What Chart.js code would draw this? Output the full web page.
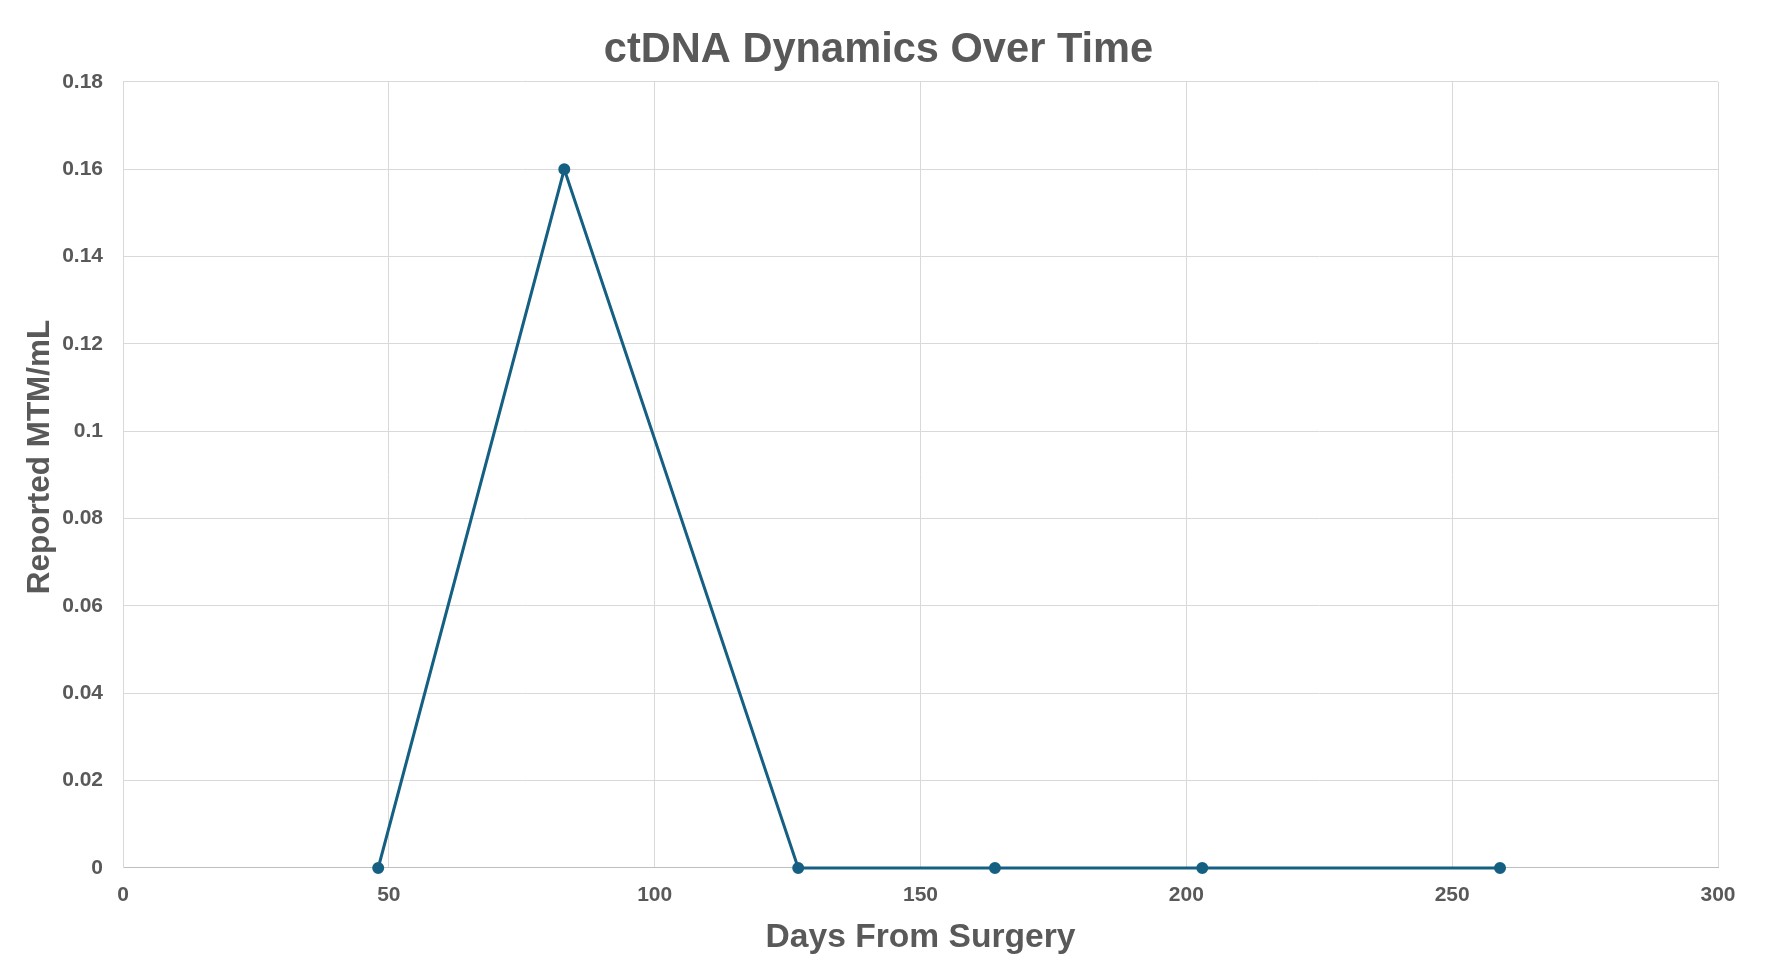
<!DOCTYPE html>
<html>
<head>
<meta charset="utf-8">
<script src="https://cdn.jsdelivr.net/npm/chart.js@4"></script>
<style>
  html, body { margin: 0; padding: 0; background: #ffffff; }
  #wrap { width: 1772px; height: 964px; }
</style>
</head>
<body>
<div id="wrap"><canvas id="chart"></canvas></div>
<script>
// days after surgery and reported MTM/mL
const days = [48, 83, 127, 164, 203, 259];
const mtm = [0, 0.16, 0, 0, 0, 0];

const xTicks = [0, 50, 100, 150, 200, 250, 300];
const yTicks = [0, 0.02, 0.04, 0.06, 0.08, 0.1, 0.12, 0.14, 0.16, 0.18];
const yTickLabels = ['0', '0.02', '0.04', '0.06', '0.08', '0.1', '0.12', '0.14', '0.16', '0.18'];

const textColor = '#595959';
const lineColor = '#156082';
const gridColor = '#d9d9d9';
const fontFamily = '"Liberation Sans", Arial, sans-serif';
const yTitle = 'Reported MTM/mL';

// the original title sits a bit right of the canvas centre,
// and the y title a bit above the plot centre
const titleNudge = {
    id: 'titleNudge',
    afterLayout(chart) {
        chart.titleBlock.left += 11;
        chart.titleBlock.right += 11;
    },
    afterDraw(chart) {
        const c = chart.ctx;
        c.save();
        c.translate(40, 457);
        c.rotate(-Math.PI / 2);
        c.fillStyle = textColor;
        c.font = 'bold 31.5px ' + fontFamily;
        c.textAlign = 'center';
        c.textBaseline = 'middle';
        c.fillText(yTitle, 0, 0);
        c.restore();
    }
};

const ctx = document.getElementById('chart');

new Chart(ctx, {
    type: 'line',
    data: {
        datasets: [{
            label: 'MTM/mL',
            data: days.map((d, i) => ({ x: d, y: mtm[i] })),
            borderColor: lineColor,
            backgroundColor: lineColor,
            borderWidth: 3,
            pointRadius: 4.5,
            pointHoverRadius: 4.5,
            tension: 0,
            clip: false // keep the zero-level line and markers whole
        }]
    },
    plugins: [titleNudge],
    options: {
        responsive: true,
        maintainAspectRatio: false,
        animation: false,
        layout: {
            padding: { left: 17, right: 54, top: 0, bottom: 0 }
        },
        plugins: {
            legend: { display: false },
            tooltip: { enabled: false },
            title: {
                display: true,
                text: 'ctDNA Dynamics Over Time',
                color: textColor,
                font: { family: fontFamily, size: 41.6, weight: 'bold' },
                padding: { top: 26, bottom: 6 }
            }
        },
        scales: {
            x: {
                type: 'linear',
                min: 0,
                max: 300,
                afterBuildTicks: axis => { axis.ticks = xTicks.map(v => ({ value: v })); },
                afterFit: axis => { axis.height = 96; },
                ticks: {
                    color: textColor,
                    font: { family: fontFamily, size: 21, weight: 'bold' },
                    padding: 15,
                    maxRotation: 0
                },
                grid: { color: gridColor, lineWidth: 1, drawTicks: false },
                border: { color: '#bfbfbf', width: 1 },
                title: {
                    display: true,
                    text: 'Days From Surgery',
                    color: textColor,
                    font: { family: fontFamily, size: 33.6, weight: 'bold' },
                    padding: { top: 4, bottom: 6 }
                }
            },
            y: {
                min: 0,
                max: 0.18,
                afterBuildTicks: axis => { axis.ticks = yTicks.map(v => ({ value: v })); },
                afterFit: axis => { axis.width = 106; },
                ticks: {
                    color: textColor,
                    font: { family: fontFamily, size: 21, weight: 'bold' },
                    padding: 20,
                    callback: (value, index) => yTickLabels[index]
                },
                grid: { color: gridColor, lineWidth: 1, drawTicks: false },
                border: { color: gridColor, width: 1 },
                title: { display: false, text: yTitle }
            }
        }
    }
});
</script>
</body>
</html>
